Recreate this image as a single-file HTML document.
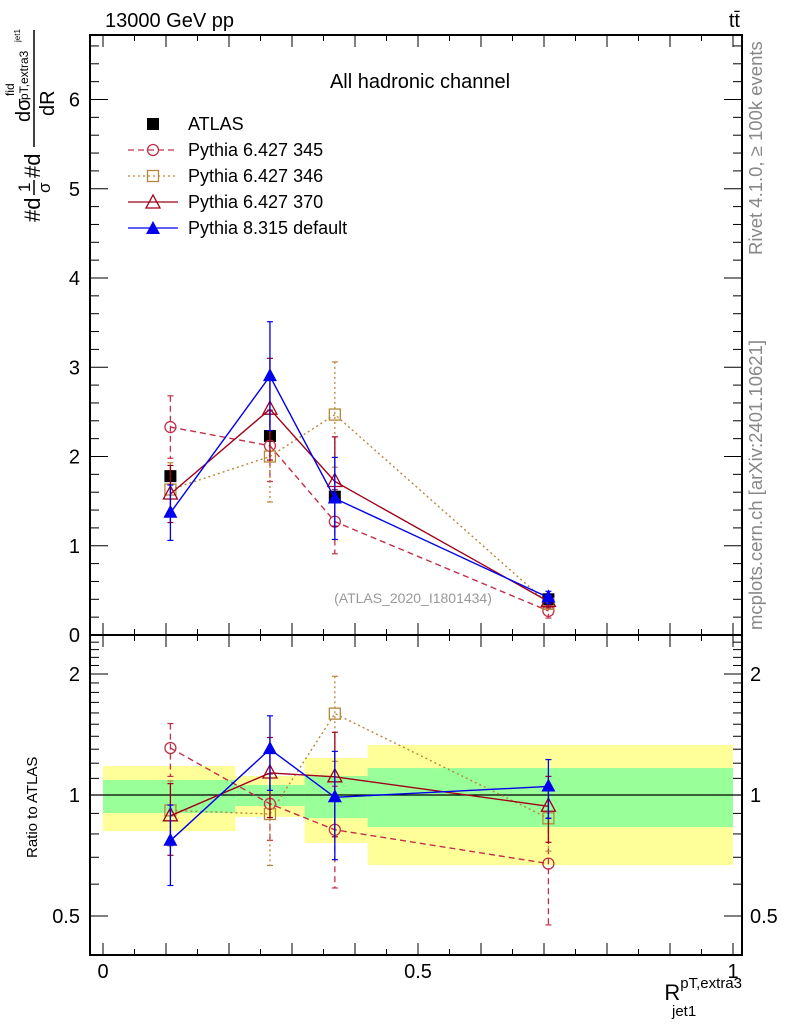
<!DOCTYPE html>
<html><head><meta charset="utf-8"><style>
body{margin:0;background:#fff}
svg{display:block;font-family:"Liberation Sans",sans-serif}
</style></head><body>
<svg id="c" width="786" height="1024" viewBox="0 0 786 1024" xmlns="http://www.w3.org/2000/svg">
<g id="bands"></g>
<g id="marks"></g>
<g id="axes"></g>
<text x="105" y="27" font-size="20">13000 GeV pp</text>
<text x="740" y="27" font-size="20" text-anchor="end">tt̄</text>
<text x="420" y="88" font-size="20" text-anchor="middle">All hadronic channel</text>
<text x="413" y="603" font-size="14" fill="#999" text-anchor="middle">(ATLAS_2020_I1801434)</text>
<text transform="translate(762,255) rotate(-90)" font-size="18.5" fill="#888">Rivet 4.1.0, ≥ 100k events</text>
<text transform="translate(762,630) rotate(-90)" font-size="18.5" fill="#888">mcplots.cern.ch [arXiv:2401.10621]</text>
<g transform="translate(40,222) rotate(-90)">
<text x="0" y="0" font-size="22">#d</text>
<text x="30" y="-10" font-size="17">1</text><line x1="27" y1="-6" x2="42" y2="-6" stroke="#000" stroke-width="1.5"/><text x="29" y="10" font-size="17">σ</text>
<text x="44" y="0" font-size="22">#d</text>
<line x1="75" y1="-6" x2="192" y2="-6" stroke="#000" stroke-width="1.5"/>
<text x="100" y="-10" font-size="20">dσ</text><text x="126" y="-26" font-size="12">fid</text><text x="122" y="-12" font-size="12">pT,extra3</text><text x="180" y="-20" font-size="8">jet1</text>
<text x="106" y="14" font-size="20">dR</text>
</g>
<text transform="translate(37,858) rotate(-90)" font-size="15">Ratio to ATLAS</text>
<text x="742" y="1000" font-size="22" text-anchor="end">R<tspan font-size="15" dy="-12">pT,extra3</tspan></text>
<text x="672" y="1016" font-size="15">jet1</text>
<g id="legend"></g>
</svg>
<script>
const xCenters=[0.107,0.265,0.368,0.707];
const binEdges=[0,0.21,0.32,0.42,1.0];
const atlas=[1.78,2.23,1.55,0.40];
const atlasErr=[0.05,0.05,0.05,0.03];
const p345=[2.33,2.12,1.27,0.27];
const p345Err=[0.35,0.40,0.36,0.08];
const p346=[1.63,2.00,2.47,0.35];
const p346Err=[0.30,0.51,0.59,0.06];
const p370=[1.58,2.53,1.72,0.375];
const p370Err=[0.32,0.57,0.50,0.07];
const p8=[1.37,2.90,1.53,0.42];
const p8Err=[0.31,0.61,0.46,0.07];
const yellowHi=[1.181,1.115,1.236,1.332];
const yellowLo=[0.813,0.882,0.760,0.669];
const greenHi=[1.09,1.059,1.115,1.167];
const greenLo=[0.902,0.939,0.876,0.832];
const mainTicks=[0,1,2,3,4,5,6];
const ratioTicks=[0.5,1,2];
const xTicks=[0,0.5,1];

const NS="http://www.w3.org/2000/svg";
const L=90,R=742,T=35,MID=635,B=955;
const X=v=>103+630*v;
const Y=v=>635-89.25*v;
const RY=r=>795-121*Math.log2(r);
function el(tag,attrs,parent){const e=document.createElementNS(NS,tag);for(const k in attrs)e.setAttribute(k,attrs[k]);parent.appendChild(e);return e;}
const bands=document.getElementById('bands'),marks=document.getElementById('marks'),axes=document.getElementById('axes'),leg=document.getElementById('legend');

for(let i=0;i<xCenters.length;i++){
 const y=el('rect',{x:X(binEdges[i]),y:RY(yellowHi[i]),width:X(binEdges[i+1])-X(binEdges[i]),height:RY(yellowLo[i])-RY(yellowHi[i]),fill:'#ffff99'},bands);
 
 
 const g=el('rect',{x:X(binEdges[i]),y:RY(greenHi[i]),width:X(binEdges[i+1])-X(binEdges[i]),height:RY(greenLo[i])-RY(greenHi[i]),fill:'#99ff99'},bands);
 
 
}
const ref=el('line',{x1:L,x2:R,y1:RY(1),y2:RY(1),stroke:'#000','stroke-width':1.2},bands);



function marker(kind,cx,cy,color,parent){
 if(kind==='sq') return el('rect',{x:cx-6,y:cy-6,width:12,height:12,fill:'#000'},parent);
 if(kind==='circ') return el('circle',{cx:cx,cy:cy,r:5.5,fill:'none',stroke:color,'stroke-width':1.3},parent);
 if(kind==='osq') return el('rect',{x:cx-5.5,y:cy-5.5,width:11,height:11,fill:'none',stroke:color,'stroke-width':1.3},parent);
 if(kind==='otri') return el('polygon',{points:`${cx},${cy-8} ${cx-7},${cy+5} ${cx+7},${cy+5}`,fill:'none',stroke:color,'stroke-width':1.3},parent);
 return el('polygon',{points:`${cx},${cy-8} ${cx-7},${cy+5} ${cx+7},${cy+5}`,fill:color},parent);
}
const series=[
 {name:'pythia-6-345',vals:p345,err:p345Err,color:'#c0304a',dash:'6,4',mk:'circ'},
 {name:'pythia-6-346',vals:p346,err:p346Err,color:'#b8863a',dash:'2,3',mk:'osq'},
 {name:'pythia-6-370',vals:p370,err:p370Err,color:'#a00018',dash:'',mk:'otri'},
 {name:'pythia-8-default',vals:p8,err:p8Err,color:'#0000ee',dash:'',mk:'ftri'}
];
function drawSeries(s,ratio){
 const g=el('g',{},marks);
 
 
 const ys=s.vals.map((v,i)=>ratio?RY(v/atlas[i]):Y(v));
 const pts=xCenters.map((x,i)=>X(x)+','+ys[i]).join(' ');
 const ln=el('polyline',{points:pts,fill:'none',stroke:s.color,'stroke-width':1.4,'stroke-dasharray':s.dash},g);
 
 
 xCenters.forEach((x,i)=>{
  const v=s.vals[i],e=s.err[i];
  const hi=ratio?RY((v+e)/atlas[i]):Y(v+e),lo=ratio?RY(Math.max(v-e,0.01)/atlas[i]):Y(v-e);
  const cx=X(x);
  const eb=el('line',{x1:cx,x2:cx,y1:hi,y2:lo,stroke:s.color,'stroke-width':1.3,'stroke-dasharray':s.dash},g);
  
  
  el('line',{x1:cx-3,x2:cx+3,y1:hi,y2:hi,stroke:s.color,'stroke-width':1.2},g);
  el('line',{x1:cx-3,x2:cx+3,y1:lo,y2:lo,stroke:s.color,'stroke-width':1.2},g);
  const m=marker(s.mk,cx,ys[i],s.color,g);
  
  
 });
}
xCenters.forEach((x,i)=>{
 const cx=X(x);
 el('line',{x1:cx,x2:cx,y1:Y(atlas[i]+atlasErr[i]),y2:Y(atlas[i]-atlasErr[i]),stroke:'#000'},marks);
 const m=marker('sq',cx,Y(atlas[i]),'#000',marks);
 
 
});
series.forEach(s=>{drawSeries(s,false);drawSeries(s,true);});

el('rect',{x:L,y:T,width:R-L,height:MID-T,fill:'none',stroke:'#000','stroke-width':2},axes);
el('rect',{x:L,y:MID,width:R-L,height:B-MID,fill:'none',stroke:'#000','stroke-width':2},axes);
for(let v=0;v<=6.7;v+=0.2){
 const y=Y(v),maj=Math.abs(v-Math.round(v))<1e-6;
 const len=maj?18:9;
 el('line',{x1:L,x2:L+len,y1:y,y2:y,stroke:'#000'},axes);
 el('line',{x1:R,x2:R-len,y1:y,y2:y,stroke:'#000'},axes);
}
mainTicks.forEach(v=>{const t=el('text',{x:80,y:Y(v)+7,'font-size':20,'text-anchor':'end'},axes);t.textContent=v;
 
 });
const rminor=[0.5,0.6,0.7,0.8,0.9,1,1.1,1.2,1.3,1.4,1.5,1.6,1.7,1.8,1.9,2,2.1,2.2,2.3,2.4];
rminor.forEach(r=>{const maj=ratioTicks.includes(r);const len=maj?18:9;const y=RY(r);
 el('line',{x1:L,x2:L+len,y1:y,y2:y,stroke:'#000'},axes);
 el('line',{x1:R,x2:R-len,y1:y,y2:y,stroke:'#000'},axes);});
ratioTicks.forEach(r=>{
 const a=el('text',{x:80,y:RY(r)+7,'font-size':20,'text-anchor':'end'},axes);a.textContent=r;
 
 
 const b=el('text',{x:750,y:RY(r)+7,'font-size':20},axes);b.textContent=r;
 
 });
for(let k=0;k<=20;k++){const v=k*0.05,x=X(v);const len=(k%2===0)?12:6;
 el('line',{x1:x,x2:x,y1:B,y2:B-len,stroke:'#000'},axes);
 el('line',{x1:x,x2:x,y1:MID,y2:MID+len,stroke:'#000'},axes);
 el('line',{x1:x,x2:x,y1:MID,y2:MID-len,stroke:'#000'},axes);
 el('line',{x1:x,x2:x,y1:T,y2:T+len,stroke:'#000'},axes);}
xTicks.forEach(v=>{const t=el('text',{x:X(v),y:978,'font-size':20,'text-anchor':'middle'},axes);t.textContent=v;
 
 });
const legItems=[['ATLAS','sq','#000',''],['Pythia 6.427 345','circ','#c0304a','6,4'],['Pythia 6.427 346','osq','#b8863a','2,3'],['Pythia 6.427 370','otri','#a00018',''],['Pythia 8.315 default','ftri','#0000ee','']];
legItems.forEach((it,i)=>{const y=124+26*i;
 const g=el('g',{},leg);
 
 
 if(i>0){el('line',{x1:128,x2:178,y1:y,y2:y,stroke:it[2],'stroke-width':1.3,'stroke-dasharray':it[3]},g);}
 marker(it[1],153,y+(it[1].includes('tri')?1:0),it[2],g);
 const t=el('text',{x:188,y:y+6,'font-size':18},g);t.textContent=it[0];});
</script>
</body></html>
